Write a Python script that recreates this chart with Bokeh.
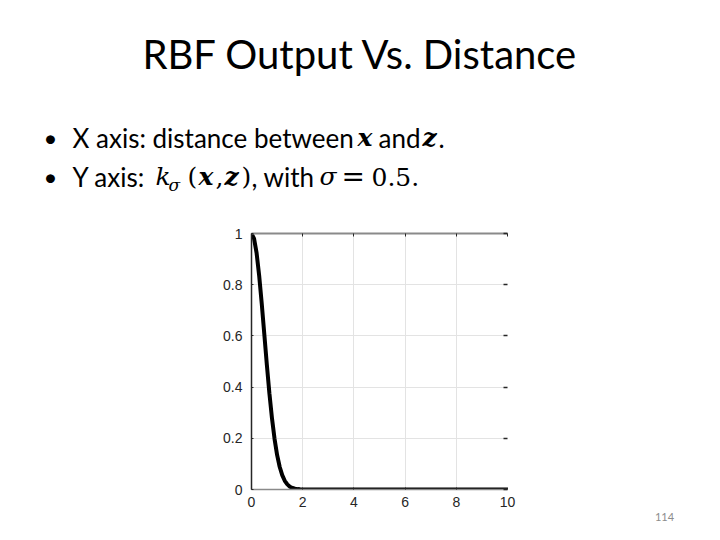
from bokeh.plotting import figure
from bokeh.models import Range1d, LinearAxis, FixedTicker, Grid
from bokeh.layouts import column, row
from bokeh.core.properties import value
from bokeh.embed import file_html
from bokeh.resources import INLINE

# ---- data ----
distance = [0.0, 0.1, 0.2, 0.3, 0.4, 0.5, 0.6, 0.7, 0.8, 0.9, 1.0,
            1.1, 1.2, 1.3, 1.4, 1.5, 1.6, 1.7, 1.8, 1.9, 2.0,
            3.0, 4.0, 5.0, 6.0, 7.0, 8.0, 9.0, 10.0]
rbf_output = [1.0, 0.98, 0.923, 0.835, 0.726, 0.607, 0.487, 0.375, 0.278, 0.198, 0.135,
              0.089, 0.056, 0.034, 0.020, 0.011, 0.006, 0.003, 0.0015, 0.0007, 0.0003,
              0.0, 0.0, 0.0, 0.0, 0.0, 0.0, 0.0, 0.0]
x_ticks = [0, 2, 4, 6, 8, 10]
x_tick_labels = ["0", "2", "4", "6", "8", "10"]
y_ticks = [0, 0.2, 0.4, 0.6, 0.8, 1]
y_tick_labels = ["0", "0.2", "0.4", "0.6", "0.8", "1"]

title_text = "RBF Output Vs. Distance"
page_number = "114"

# ---- layout (page pixels) ----
W = 704
TOP_H = 215                      # text band height
CH_W, CH_H = 540, 309            # chart figure size
FL, FR, FT, FB = 251, 507, 233, 489   # frame edges in page pixels

body_font = "Lato"
serif = "DejaVu Serif"
label_font = "Liberation Sans"
dark = "#262626"

def blank(w, h):
    f = figure(width=w, height=h, output_backend="svg", toolbar_location=None,
               title=None,
               x_range=Range1d(0, w), y_range=Range1d(h, 0),
               x_axis_type=None, y_axis_type=None,
               min_border=0)
    f.outline_line_color = None
    f.grid.visible = False
    f.background_fill_color = "white"
    f.border_fill_color = "white"
    return f

def txt(f, s, x, y, font=body_font, size=26, style="normal", align="left",
        color="black"):
    f.text(x=[x], y=[y], text=[s], text_font=value(font), text_font_size=f"{size}px",
           text_font_style=style, text_align=align, text_baseline="middle",
           text_color=color)

# ---- text band ----
top = blank(W, TOP_H)
txt(top, title_text, 360, 53, size=40, align="center")

b1, b2 = 137, 176
txt(top, "\u2022", 50, b1, size=24, align="center")
txt(top, "X axis: distance between", 72, b1)
txt(top, "x", 357, b1, font=serif, size=25, style="bold italic")
txt(top, "and", 378, b1)
txt(top, "z", 422, b1, font=serif, size=25, style="bold italic")
txt(top, ".", 438, b1)

txt(top, "\u2022", 50, b2, size=24, align="center")
txt(top, "Y axis:", 72, b2)
txt(top, "k", 155, b2, font=serif, size=25, style="italic")
txt(top, "\u03c3", 168, b2 + 8, font=serif, size=17, style="italic")
txt(top, "(", 187, b2, font=serif, size=25)
txt(top, "x", 198, b2, font=serif, size=25, style="bold italic")
txt(top, ",", 215, b2, font=serif, size=25)
txt(top, "z", 224, b2, font=serif, size=25, style="bold italic")
txt(top, ")", 241, b2, font=serif, size=25)
txt(top, ", with", 251, b2)
txt(top, "\u03c3", 319, b2, font=serif, size=25, style="italic")
txt(top, "=", 341, b2, font=serif, size=28)
txt(top, "0.5.", 371, b2, font=serif, size=25)

# ---- chart ----
p = figure(width=CH_W, height=CH_H, output_backend="svg", toolbar_location=None,
           title=None,
           x_range=Range1d(0, 10), y_range=Range1d(0, 1),
           min_border_left=FL, min_border_right=CH_W - FR,
           min_border_top=FT - TOP_H, min_border_bottom=TOP_H + CH_H - FB,
           x_axis_type=None, y_axis_type=None)
p.outline_line_color = None
p.background_fill_color = "white"
p.border_fill_color = "white"

xt = FixedTicker(ticks=x_ticks)
yt = FixedTicker(ticks=y_ticks)

xaxis = LinearAxis(ticker=xt, major_label_overrides=dict(zip(x_ticks, x_tick_labels)))
yaxis = LinearAxis(ticker=yt, major_label_overrides=dict(zip(y_ticks, y_tick_labels)))
for ax in (xaxis, yaxis):
    ax.major_label_text_font = label_font
    ax.major_label_text_font_size = "14px"
    ax.major_label_text_color = dark
    ax.major_tick_in = 2
    ax.major_tick_out = 0
    ax.minor_tick_line_color = None
    ax.major_tick_line_color = dark
xaxis.major_label_standoff = 7
yaxis.major_label_standoff = 9
xaxis.axis_line_color = "#8a8a8a"
xaxis.axis_line_width = 1.5
yaxis.axis_line_color = dark
yaxis.axis_line_width = 1.5
p.add_layout(xaxis, "below")
p.add_layout(yaxis, "left")

tax = LinearAxis(ticker=xt, major_label_text_font_size="0px", major_label_text_alpha=0)
tax.axis_line_color = "#8a8a8a"
tax.axis_line_width = 2
tax.major_tick_in = 3
tax.major_tick_out = 0
tax.major_tick_line_color = dark
tax.minor_tick_line_color = None
p.add_layout(tax, "above")

rax = LinearAxis(ticker=yt, major_label_text_font_size="0px", major_label_text_alpha=0)
rax.axis_line_color = None
rax.major_tick_in = 4
rax.major_tick_out = 0
rax.major_tick_line_color = dark
rax.major_tick_line_width = 1.5
rax.minor_tick_line_color = None
p.add_layout(rax, "right")

p.add_layout(Grid(dimension=0, ticker=xt, grid_line_color="#e3e3e3", grid_line_width=1))
p.add_layout(Grid(dimension=1, ticker=yt, grid_line_color="#e3e3e3", grid_line_width=1))

p.line(distance, rbf_output, line_color="black", line_width=4)

# ---- right band with page number ----
side = blank(W - CH_W, CH_H)
txt(side, page_number, 664 - CH_W, 516 - TOP_H, size=11, align="center",
    color="#8c8c8c")

layout = column(top, row(p, column(side), spacing=0), spacing=0)
open("out.html", "w").write(file_html(layout, INLINE))
